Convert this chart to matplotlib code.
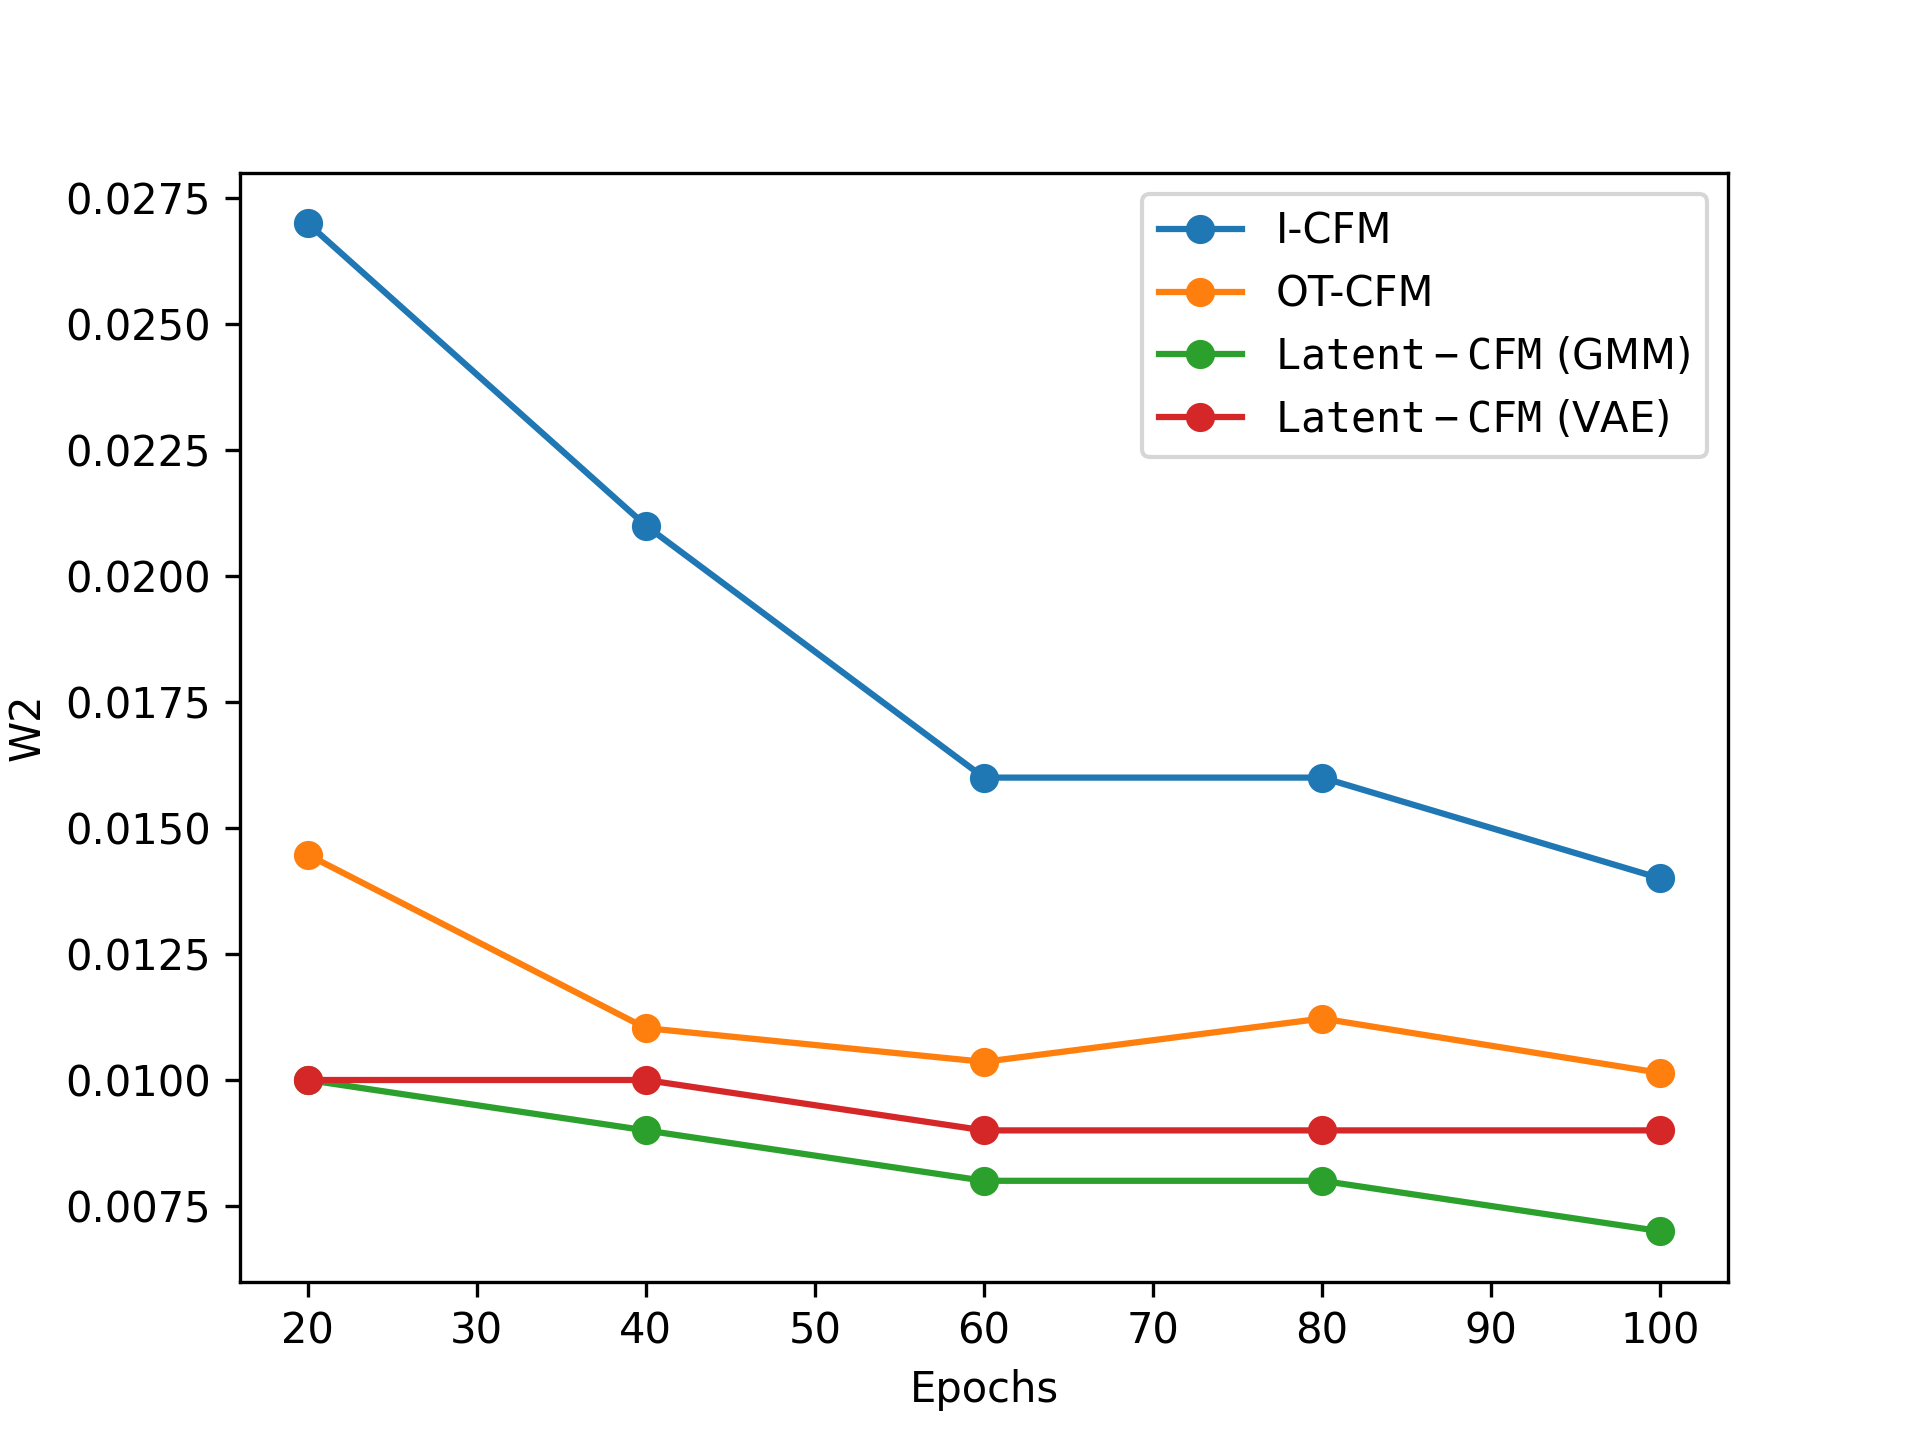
import matplotlib
matplotlib.use("Agg")
import matplotlib.pyplot as plt

epochs = [20, 40, 60, 80, 100]
icfm = [0.027, 0.021, 0.016, 0.016, 0.014]
otcfm = [0.01447, 0.01103, 0.01036, 0.01122, 0.01014]
latent_gmm = [0.010, 0.009, 0.008, 0.008, 0.007]
latent_vae = [0.010, 0.010, 0.009, 0.009, 0.009]

plt.figure(figsize=(6.4, 4.8))
plt.plot(epochs, icfm, "o-", label="I-CFM")
plt.plot(epochs, otcfm, "o-", label="OT-CFM")
plt.plot(epochs, latent_gmm, "o-", label=r"$\mathtt{Latent-CFM}$ (GMM)")
plt.plot(epochs, latent_vae, "o-", label=r"$\mathtt{Latent-CFM}$ (VAE)")
plt.xlabel("Epochs")
plt.ylabel("W2")
plt.legend()
plt.savefig("out.png", dpi=300)
